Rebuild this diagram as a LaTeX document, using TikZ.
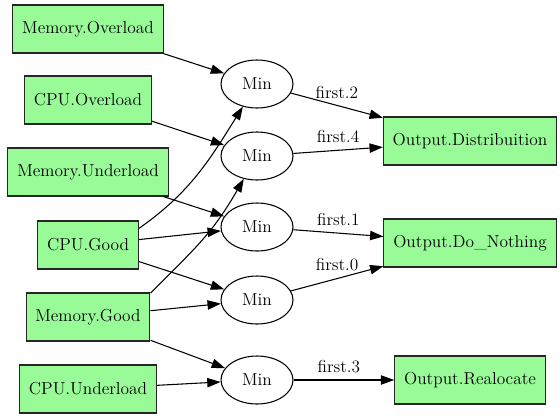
\documentclass[tikz,border=0pt]{standalone}
\usepackage{tikz}
\usetikzlibrary{arrows.meta,positioning,shapes.geometric}
\definecolor{greenfuzzy}{RGB}{152, 251, 152}

\begin{document}
\begin{tikzpicture}[
      x=0.75pt, y=0.75pt,
      every node/.style={font=\rmfamily\fontsize{13}{15}\selectfont},
      input box/.style={
        rectangle,
        draw=black!85,
        fill=greenfuzzy,
        line width=0.8pt,
        minimum height=36pt,
        minimum width=54pt,
        inner xsep=7pt
      },
      min node/.style={
        ellipse,
        draw=black,
        line width=0.8pt,
        minimum width=54pt,
        minimum height=36pt,
        inner sep=0pt
      },
      rule edge/.style={
        line width=0.8pt,
        -{Triangle[length=10pt, width=7pt]}
      },
      edge label/.style={inner sep=1pt, above=4pt}
  ]
        \useasboundingbox (0,0) rectangle (560,-419);

        % 1. Entradas
        \node[input box] (memover)  at (88,-29)  {Memory.Overload};
        \node[input box] (cpuover)  at (88,-100) {CPU.Overload};
        \node[input box] (memunder) at (88,-172) {Memory.Underload};
        \node[input box] (cpugood)  at (88,-245) {CPU.Good};
        \node[input box] (memgood)  at (88,-317) {Memory.Good};
        \node[input box] (cpuunder) at (88,-389) {CPU.Underload};

        % 2. Regras Min
        \node[min node] (min1) at (257,-84)  {Min};
        \node[min node] (min2) at (257,-156) {Min};
        \node[min node] (min3) at (257,-227) {Min};
        \node[min node] (min4) at (257,-300) {Min};
        \node[min node] (min5) at (257,-380) {Min};

        % 3. Saidas
        \node[input box] (outdist) at (470,-141) {Output.Distribuition};
        \node[input box] (outnone) at (470,-243) {Output.Do\_Nothing};
        \node[input box] (outrealoc) at (470,-380) {Output.Realocate};

        % 4. Antecedentes
        \draw[rule edge] (memover) -- (min1);
        \draw[rule edge] (cpuover) -- (min2);
        \draw[rule edge] (memunder) -- (min3);
        \draw[rule edge] (cpugood.18) to[out=35, in=238] (min1);
        \draw[rule edge] (cpugood) -- (min3);
        \draw[rule edge] (cpugood) -- (min4);
        \draw[rule edge] (memgood.21) to[out=45, in=240, looseness=1.1] (min2);
        \draw[rule edge] (memgood) -- (min4);
        \draw[rule edge] (memgood) -- (min5);
        \draw[rule edge] (cpuunder) -- (min5);

        % 5. Consequentes
        \draw[rule edge] (min1) -- node[edge label] {first.2} (outdist);
        \draw[rule edge] (min2) -- node[edge label] {first.4} (outdist);
        \draw[rule edge] (min3) -- node[edge label] {first.1} (outnone);
        \draw[rule edge] (min4) -- node[edge label] {first.0} (outnone);
        \draw[rule edge] (min5) -- node[edge label, pos=0.45] {first.3} (outrealoc);
  \end{tikzpicture}
\end{document}
